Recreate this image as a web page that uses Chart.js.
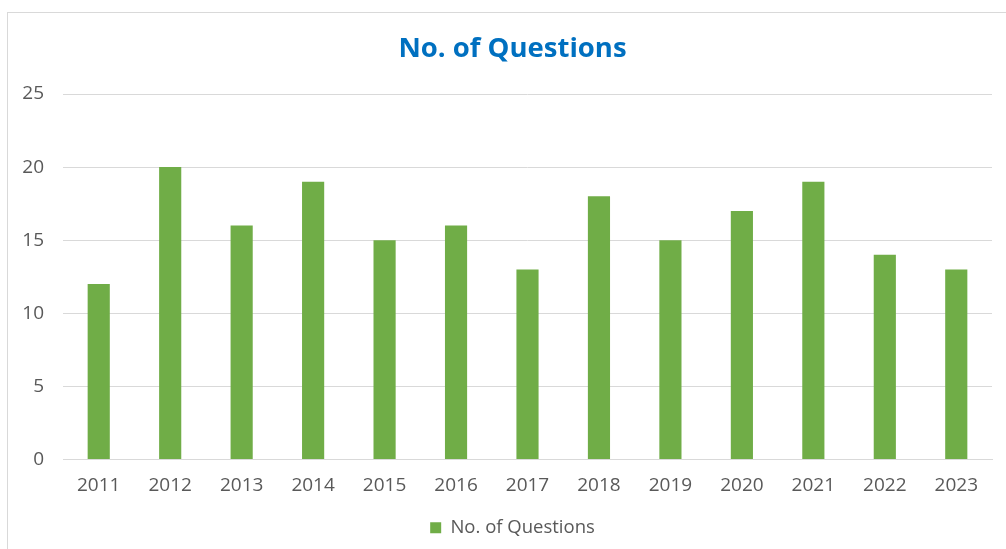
<!DOCTYPE html>
<html>
<head>
<meta charset="utf-8">
<script src="https://cdn.jsdelivr.net/npm/chart.js@4.4.1/dist/chart.umd.min.js"></script>
<style>
  html, body { margin: 0; padding: 0; background: #ffffff; }
  #wrap { position: absolute; left: 7px; top: 12px; width: 999px; height: 537px;
          border-left: 1px solid #d9d9d9; border-top: 1px solid #d9d9d9; box-sizing: border-box; }
  canvas { display: block; }
</style>
</head>
<body>
<div id="wrap"><canvas id="c"></canvas></div>
<script>
const categories = ["2011","2012","2013","2014","2015","2016","2017","2018","2019","2020","2021","2022","2023"];
const questions = [12, 20, 16, 19, 15, 16, 13, 18, 15, 17, 19, 14, 13];
const yTicks = [0, 5, 10, 15, 20, 25];

const FONT = "'Open Sans', 'DejaVu Sans', sans-serif";
const TEXT = "#595959";

new Chart(document.getElementById('c'), {
  type: 'bar',
  data: {
    labels: categories,
    datasets: [{
      label: 'No. of Questions',
      data: questions,
      backgroundColor: '#70ad47',
      borderWidth: 0,
      barPercentage: 0.62,
      categoryPercentage: 0.5
    }]
  },
  options: {
    responsive: true,
    maintainAspectRatio: false,
    animation: false,
    layout: { padding: { left: 25, right: 14, top: 0, bottom: 2 } },
    plugins: {
      title: {
        display: true,
        text: 'No. of Questions',
        color: '#0070c0',
        font: { family: FONT, size: 27.5, weight: 'bold', lineHeight: 1.2 },
        padding: { top: 20, bottom: 28 }
      },
      legend: {
        display: true,
        position: 'bottom',
        labels: {
          color: TEXT,
          font: { family: FONT, size: 18.5 },
          boxWidth: 11,
          boxHeight: 11,
          padding: 12
        }
      },
      tooltip: { enabled: false }
    },
    scales: {
      x: {
        afterFit: (s) => { s.height = 47; },
        grid: { display: false, drawTicks: false },
        border: { display: true, color: '#d9d9d9', width: 1 },
        ticks: { color: TEXT, font: { family: FONT, size: 19 }, padding: 15, maxRotation: 0 }
      },
      y: {
        min: 0,
        max: 25,
        afterBuildTicks: (s) => { s.ticks = yTicks.map(v => ({ value: v })); },
        afterFit: (s) => { s.width = 30; s._computeLabelArea = () => undefined; },
        grid: { color: '#d9d9d9', drawTicks: false },
        border: { display: false },
        ticks: { color: TEXT, font: { family: FONT, size: 19 }, padding: 19 }
      }
    }
  }
});
</script>
</body>
</html>
